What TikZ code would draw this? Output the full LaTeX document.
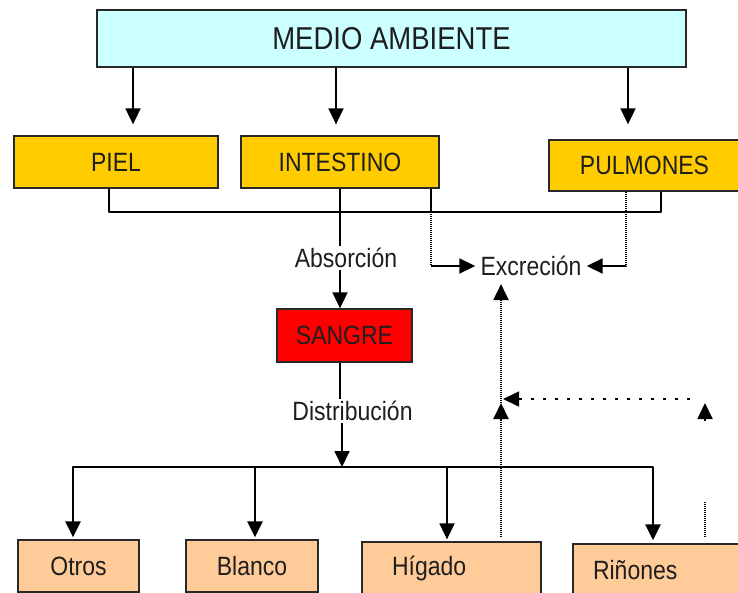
\documentclass[tikz,border=0pt]{standalone}
\usepackage{fontspec}
\setmainfont{Liberation Sans}
\usetikzlibrary{arrows.meta,calc}
\definecolor{cyanbox}{RGB}{204,255,255}
\definecolor{yelbox}{RGB}{255,204,0}
\definecolor{redbox}{RGB}{255,0,0}
\definecolor{orbox}{RGB}{255,204,153}
\definecolor{edge}{RGB}{40,40,40}
\definecolor{txt}{RGB}{30,30,30}
\newcommand{\tx}[1]{\scalebox{1}[1.15]{#1}}
\tikzset{
  box/.style={draw=edge, line width=1.3pt, inner sep=0pt, text=txt, font=\fontsize{23}{27}\selectfont},
  lbl/.style={inner sep=2pt, text=txt, font=\fontsize{23}{27}\selectfont},
  tri/.tip={Triangle[length=16pt,width=15pt]},
  tip/.style={-tri},
  ln/.style={line width=1.8pt, line join=round},
  thk/.style={line width=2.6pt, line join=round},
  dotl/.style={line width=2pt, dash pattern=on 1pt off 1pt},
  sparse/.style={line width=1.6pt, dash pattern=on 3pt off 9pt},
}
\begin{document}
\begin{tikzpicture}[x=1pt,y=-1pt]
\fill[white] (0,0) rectangle (738,592);
\clip (0,0) rectangle (738,592);
\useasboundingbox (0,0) rectangle (738,592);

% boxes
\node[box, fill=cyanbox, minimum width=589pt, minimum height=57pt, font=\fontsize{27.5}{31}\selectfont] (top) at (391.5,38.5) {\tx{MEDIO AMBIENTE}};
\node[box, fill=yelbox, minimum width=204pt, minimum height=52pt] (piel) at (116,162) {\tx{PIEL}};
\node[box, fill=yelbox, minimum width=198pt, minimum height=52pt] (intest) at (340,162) {\tx{INTESTINO}};
\node[box, fill=yelbox, minimum width=191pt, minimum height=51pt] (pulm) at (644.5,165.5) {\tx{PULMONES}};
\node[box, fill=redbox, minimum width=135pt, minimum height=53pt] (sangre) at (344.5,335.5) {\tx{SANGRE}};
\node[box, fill=orbox, minimum width=121pt, minimum height=52pt] (otros) at (78.5,566) {\tx{Otros}};
\node[box, fill=orbox, minimum width=132pt, minimum height=52pt] (blanco) at (252,566) {\tx{Blanco}};
\node[box, fill=orbox, minimum height=52pt, inner xsep=30pt, text width=119pt, align=left] (higado) at (451.5,568) {\tx{Hígado}};
\node[box, fill=orbox, minimum height=52pt, inner xsep=20pt, text width=129pt, align=left] (rin) at (657.5,570) {\tx{Riñones}};

% labels
\node[lbl] (absor) at (346,258) {\tx{Absorción}};
\node[lbl, inner xsep=5pt] (excr) at (531,266) {\tx{Excreción}};
\node[lbl] (distr) at (352.5,411) {\tx{Distribución}};

% helper levels
\coordinate (col) at (0,212);
\coordinate (bus) at (0,467);

% top arrows
\draw[ln,tip,shorten >=11pt] ([xshift=17pt]piel.north |- top.south) -- ([xshift=17pt]piel.north);
\draw[ln,tip,shorten >=11pt] ([xshift=-4pt]intest.north |- top.south) -- ([xshift=-4pt]intest.north);
\draw[ln,tip,shorten >=15pt] ([xshift=-16.5pt]pulm.north |- top.south) -- ([xshift=-16.5pt]pulm.north);

% collector
\draw[thk] ([xshift=-7pt]piel.south) -- ([xshift=-7pt]piel.south |- col) -| ([xshift=16.5pt]pulm.south);

% intestino -> absorcion -> sangre -> distribucion
\draw[ln] (intest.south) -- (intest.south |- absor.north);
\draw[ln,tip] (intest.south |- absor.south) -- (intest.south |- sangre.north);
\draw[ln] (intest.south |- sangre.south) -- (intest.south |- distr.north);
\draw[ln,tip] ([xshift=2pt]intest.south |- distr.south) -- ([xshift=2pt]intest.south |- bus);

% distribution bus
\draw[thk,tri-tri, shorten <=2pt, shorten >=3pt]
  ([xshift=-5.5pt]otros.north) -- ([xshift=-5.5pt]otros.north |- bus) -- ([xshift=-4.5pt]rin.north |- bus) -- ([xshift=-4.5pt]rin.north);
\draw[thk,tip,shorten >=2pt] ([xshift=3pt]blanco.north |- bus) -- ([xshift=3pt]blanco.north);
\draw[ln,tip,shorten >=2pt] ([xshift=-4.5pt]higado.north |- bus) -- ([xshift=-4.5pt]higado.north);

% intestino -> excrecion
\draw[ln] ([xshift=91pt]intest.south) -- ([xshift=91pt]intest.south |- col);
\draw[dotl] ([xshift=91pt]intest.south |- col) -- ([xshift=91pt]intest.south |- excr.west);
\draw[ln,tip] ([xshift=91pt]intest.south |- excr.west) -- (excr.west);

% pulmones -> excrecion
\draw[dotl] ([xshift=-18.5pt]pulm.south) -- ([xshift=-18.5pt]pulm.south |- excr.east);
\draw[ln,tip] ([xshift=-18.5pt]pulm.south |- excr.east) -- (excr.east);

% dotted returns
\coordinate (d1) at (501,537);
\coordinate (d2) at (501,403);
\coordinate (h1) at (690,399);
\coordinate (h2) at (503,399);
\coordinate (r1) at (705,537);
\coordinate (r2) at (705,502);
\coordinate (r3) at (705,421);
\coordinate (r4) at (705,403);
\draw[dotl,-tri] (d1) -- (d2);
\draw[dotl,-tri,shorten >=6pt] (d2) -- ([xshift=-30pt]excr.south);
\draw[sparse,-tri] (h1) -- (h2);
\draw[dotl] (r1) -- (r2);
\draw[ln,tip] (r3) -- (r4);
\end{tikzpicture}
\end{document}
